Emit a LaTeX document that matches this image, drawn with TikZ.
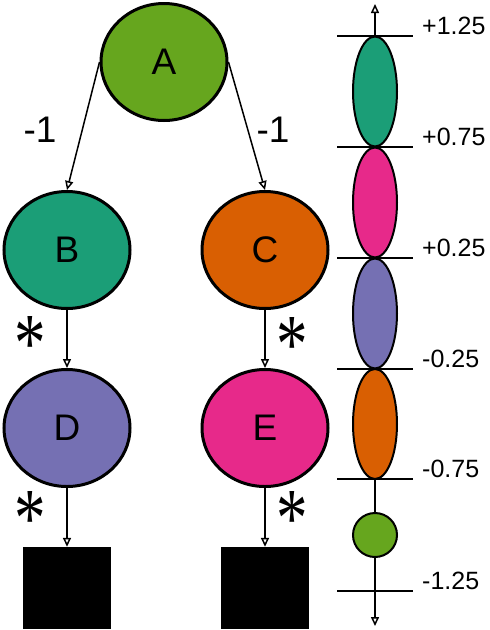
\documentclass[tikz,border=0pt]{standalone}
\usepackage{fontspec}
\setmainfont{Liberation Sans}
\newfontfamily\starfont{Liberation Serif}
\usetikzlibrary{arrows.meta,shapes.geometric}
\definecolor{stategreen}{HTML}{66A61E}
\definecolor{stateteal}{HTML}{1B9E77}
\definecolor{stateorange}{HTML}{D95F02}
\definecolor{statepurple}{HTML}{7570B3}
\definecolor{statepink}{HTML}{E7298A}
\tikzset{
  vertex/.style={ellipse,draw,line width=3pt,inner sep=0pt,minimum width=126pt,minimum height=117pt,font=\fontsize{37}{37}\selectfont},
  leaf/.style={rectangle,fill=black,inner sep=0pt,minimum width=88pt,minimum height=82pt},
  link/.style={line width=1.5pt,-{Triangle[open,length=9pt,width=8pt]}},
  weight/.style={font=\fontsize{37}{37}\selectfont},
  mult/.style={anchor=base,inner sep=0pt,font=\starfont\fontsize{60}{60}\selectfont},
  band/.style={ellipse,draw,line width=2pt,inner sep=0pt,minimum width=44pt,minimum height=110pt},
  axis/.style={line width=1.5pt,{Triangle[open,length=9pt,width=8pt]}-{Triangle[open,length=9pt,width=8pt]}},
  scaleline/.style={line width=1.5pt},
  scalelabel/.style={anchor=base west,inner sep=0pt,font=\fontsize{25}{25}\selectfont}
}
\newcommand{\tallstar}{\scalebox{1.05}[1.4]{*}}
\begin{document}
\begin{tikzpicture}[x=1pt,y=-1pt]
\useasboundingbox (0,0) rectangle (490,630);
% Draw the tree
\node[vertex,fill=stategreen] (A) at (164,62) {A};
\node[vertex,fill=stateteal] (B) at (67,250) {B};
\node[vertex,fill=stateorange] (C) at (265,250) {C};
\node[vertex,fill=statepurple] (D) at (67,428) {D};
\node[vertex,fill=statepink] (E) at (265,428) {E};
\node[leaf] (DL) at (67,588) {};
\node[leaf] (EL) at (265,588) {};
\draw[link] (A.west) -- (B.north);
\draw[link] (A.east) -- (C.north);
\draw[link] (B.south) -- (D.north);
\draw[link] (C.south) -- (E.north);
\draw[link] (D.south) -- (DL.north);
\draw[link] (E.south) -- (EL.north);
% Draw the weights
\node[weight] (wAB) at (40,130) {-1};
\node[weight] (wAC) at (273,130) {-1};
\node[mult] (mBD) at (30,371) {\tallstar};
\node[mult] (mCE) at (292,372) {\tallstar};
\node[mult] (mDL) at (30,546) {\tallstar};
\node[mult] (mEL) at (292,546) {\tallstar};
% Draw the scale
\coordinate (top) at (375,4);
\coordinate (bottom) at (375,626);
\draw[axis] (bottom) -- (top);
\node[band,fill=stateteal] (s1) at (375,91.5) {};
\node[band,fill=statepink] (s2) at (375,202.5) {};
\node[band,fill=statepurple] (s3) at (375,313.5) {};
\node[band,fill=stateorange] (s4) at (375,424) {};
\node[circle,draw,line width=2pt,fill=stategreen,minimum size=44pt,inner sep=0pt] (s5) at (375,535) {};
\foreach \y/\v in {36/+1.25,147/+0.75,258/+0.25,369/-0.25,479/-0.75,591/-1.25} {
  \draw[scaleline] (337,\y) -- (413,\y);
  \node[scalelabel] (v\y) at (422,\y-2) {\v};
}
\end{tikzpicture}
\end{document}
